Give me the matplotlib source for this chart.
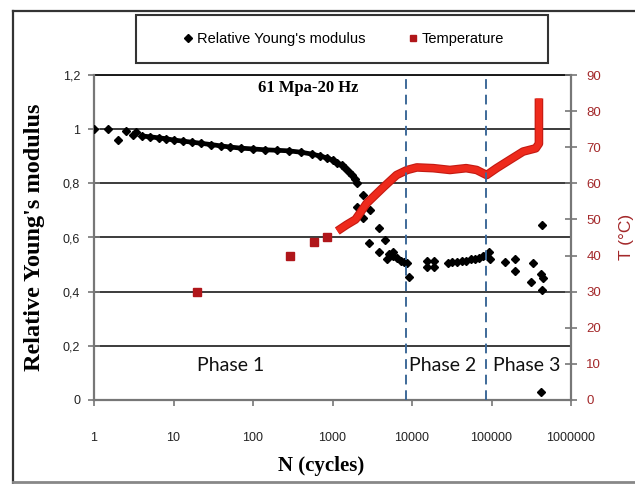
import matplotlib
matplotlib.use("Agg")
import matplotlib.pyplot as plt
from matplotlib.lines import Line2D

plt.rcParams["font.family"] = ["Liberation Sans", "DejaVu Sans"]

# Relative Young's modulus
ym_early_n = [1, 1.5, 2.0, 2.5, 3.1, 3.4]
ym_early_v = [1.0, 1.0, 0.96, 0.995, 0.98, 0.99]

ym_band_n = [4, 5, 6.5, 8, 10, 13, 17, 22, 30, 40, 52, 70, 100, 140, 200, 280,
             400, 550, 700, 850, 1000, 1150, 1300, 1450, 1600, 1750, 1900, 2050]
ym_band_v = [0.975, 0.972, 0.968, 0.965, 0.96, 0.956, 0.952, 0.948, 0.943, 0.938,
             0.934, 0.93, 0.927, 0.924, 0.922, 0.92, 0.915, 0.908, 0.901, 0.894,
             0.886, 0.876, 0.866, 0.855, 0.843, 0.83, 0.815, 0.80]

ym_late_n = [2400, 2050, 2450, 3000, 3900, 2900, 4600, 3900, 4800, 5800, 5200,
             5800, 6500, 7200, 8000, 8600, 9200,
             15500, 15500, 19000, 19000, 28000, 32000, 37000, 42000, 48000, 55000,
             62000, 70000, 78000, 86000, 92000, 95000,
             150000, 200000, 200000, 330000, 310000, 420000, 440000, 430000,
             430000, 420000]
ym_late_v = [0.757, 0.714, 0.671, 0.70, 0.636, 0.579, 0.59, 0.548, 0.52, 0.548, 0.54,
             0.53, 0.525, 0.515, 0.51, 0.505, 0.453,
             0.515, 0.49, 0.515, 0.49, 0.505, 0.51, 0.51, 0.515, 0.515, 0.52,
             0.52, 0.525, 0.53, 0.535, 0.545, 0.52,
             0.51, 0.52, 0.475, 0.505, 0.437, 0.465, 0.45, 0.405,
             0.645, 0.03]

# Temperature (deg C)
temp_sparse_n = [20, 290, 585, 845]
temp_sparse_t = [30, 40, 43.8, 45.2]

temp_curve_n = [1150, 1500, 1950, 2700, 4400, 6400, 8700, 11500, 18600, 30000,
                48000, 65000, 87000, 116000, 170000, 250000, 360000, 395000, 395000]
temp_curve_t = [46.8, 48.5, 50, 54.5, 59, 62.3, 63.7, 64.4, 64.2, 63.7,
                64.2, 63.7, 62.3, 64.2, 66.5, 68.8, 69.7, 71, 83.5]

phase_bounds = [8300, 85000]
phase_labels = ["Phase 1", "Phase 2", "Phase 3"]
phase_pos = [53, 24500, 280000]

x_ticks = [1, 10, 100, 1000, 10000, 100000, 1000000]
y_ticks = [0, 0.2, 0.4, 0.6, 0.8, 1.0, 1.2]
y_labels = ["0", "0,2", "0,4", "0,6", "0,8", "1", "1,2"]
t_ticks = list(range(0, 91, 10))

W, H = 635, 484
fig = plt.figure(figsize=(W / 100, H / 100), dpi=100)
ax = fig.add_axes([94 / W, 1 - 400 / H, 477 / W, 325 / H])
ax2 = ax.twinx()

dark_red = "#A3282A"
grey = "#777777"

ax.set_xscale("log")
ax.set_xlim(1, 1e6)
ax.set_ylim(0, 1.2)
ax2.set_ylim(0, 90)

ax.set_yticks(y_ticks)
ax.set_yticklabels(y_labels)
ax.set_xticks(x_ticks)
ax.set_xticklabels([str(v) for v in x_ticks])
ax.xaxis.set_minor_locator(matplotlib.ticker.NullLocator())
ax.yaxis.grid(True, color="#1a1a1a", lw=1.2)
ax.set_axisbelow(True)
ax.axhline(1.2, color="#1a1a1a", lw=1.4, clip_on=False, zorder=1)

for s in ["top", "right"]:
    ax.spines[s].set_visible(False)
for s in ["top", "left", "bottom"]:
    ax2.spines[s].set_visible(False)
ax.spines["left"].set_color(grey)
ax.spines["bottom"].set_color(grey)
ax2.spines["right"].set_color(grey)
for sp in [ax.spines["left"], ax.spines["bottom"], ax2.spines["right"]]:
    sp.set_linewidth(1.6)

ax.tick_params(axis="y", direction="inout", length=8, width=1.2, color=grey,
               labelsize=9, pad=6, labelcolor="#222222")
ax.tick_params(axis="x", direction="out", length=4, width=1.2, color=grey,
               labelsize=9, pad=19, labelcolor="#222222")
ax2.set_yticks(t_ticks)
ax2.tick_params(axis="y", direction="inout", length=8, width=1.2, color=grey,
                labelsize=9.5, pad=7, labelcolor=dark_red)

# Young's modulus
ax.plot(ym_band_n, ym_band_v, color="black", lw=3.4, zorder=3)
ax.plot(ym_band_n, ym_band_v, "D", color="black", ms=3.8, zorder=3)
ax.plot(ym_early_n, ym_early_v, "D", color="black", ms=3.8, zorder=3, ls="none")
ax.plot(ym_late_n, ym_late_v, "D", color="black", ms=3.8, zorder=3, ls="none")

# Temperature
ax2.plot(temp_curve_n, temp_curve_t, color="#C41A12", lw=6.2,
         solid_joinstyle="round", solid_capstyle="butt", zorder=3)
ax2.plot(temp_curve_n, temp_curve_t, color="#EE2A1C", lw=4.6,
         solid_joinstyle="round", solid_capstyle="butt", zorder=3)
ax2.plot(temp_sparse_n, temp_sparse_t, "s", color="#B0161A", ms=5.2, ls="none", zorder=3)

for b in phase_bounds:
    ax2.axvline(b, color="#3E6A99", lw=1.4, ls=(0, (5, 3)), zorder=4)

for lab, px in zip(phase_labels, phase_pos):
    ax2.text(px, 0.126 / 1.2 * 90, lab, ha="center", va="center",
             fontsize=14, family=["Lato", "DejaVu Sans"], color="#111111", zorder=5)

ax.text(0.449, 0.96, "61 Mpa-20 Hz", transform=ax.transAxes, ha="center", va="center",
        fontsize=12, fontweight="bold", family=["Liberation Serif", "DejaVu Serif"])

fig.text(35 / W, 1 - 237 / H, "Relative Young's modulus", rotation=90, ha="center",
         va="center", fontsize=17.5, fontweight="bold",
         family=["Liberation Serif", "DejaVu Serif"])
fig.text(321 / W, 1 - 466 / H, "N (cycles)", ha="center", va="center", fontsize=15,
         fontweight="bold", family=["Liberation Serif", "DejaVu Serif"])
fig.text(626 / W, 1 - 237 / H, "T (\u00b0C)", rotation=90, ha="center", va="center",
         fontsize=12.5, color=dark_red)

# legend box
box = plt.Rectangle((136 / W, 1 - 63 / H), 412 / W, 48 / H, transform=fig.transFigure,
                    facecolor="white", edgecolor="#333333", lw=1.5)
fig.patches.append(box)
handles = [Line2D([], [], marker="D", color="black", ls="none", ms=4),
           Line2D([], [], marker="s", color="#B0161A", ls="none", ms=5)]
fig.legend(handles, ["Relative Young's modulus", "Temperature"], loc="center",
           bbox_to_anchor=(344 / W, 1 - 39 / H), ncol=2, frameon=False,
           handlelength=0.6, handletextpad=0.3, columnspacing=3.0,
           prop={"size": 10.5})

# outer frame
frame_kw = dict(transform=fig.transFigure, color="#333333", lw=1.6)
fig.lines.append(Line2D([13 / W, 13 / W], [1 - 483 / H, 1 - 11 / H], **frame_kw))
fig.lines.append(Line2D([13 / W, 1], [1 - 11 / H, 1 - 11 / H], **frame_kw))
fig.lines.append(Line2D([13 / W, 1], [1 - 482 / H, 1 - 482 / H], color="#888888",
                        lw=2.0, transform=fig.transFigure))

fig.savefig("out.png", dpi=100)
